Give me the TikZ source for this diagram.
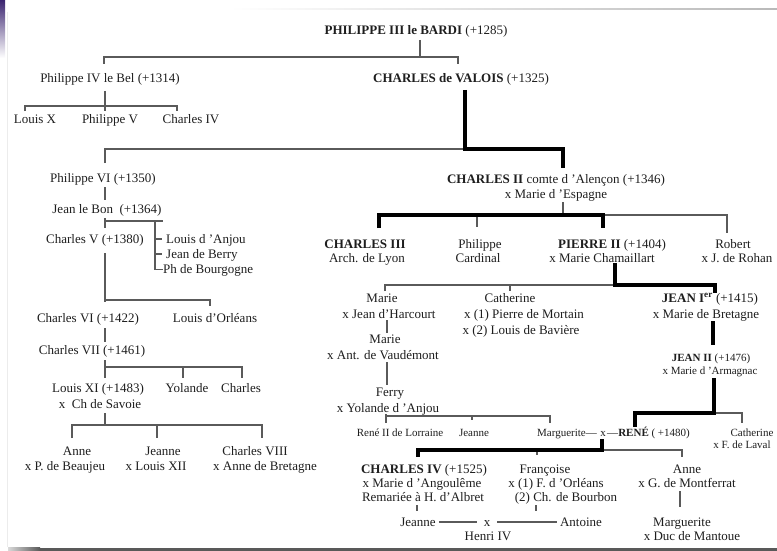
\documentclass[tikz,border=0pt]{standalone}
\usepackage{fontspec}
\setmainfont{Liberation Serif}
\begin{document}
\begin{tikzpicture}[x=1pt,y=-1pt,
  t/.style={anchor=base,inner sep=0pt,text=txt,font=\fontsize{13}{14}\selectfont},
  ts/.style={t,font=\fontsize{11}{12}\selectfont},
  thinl/.style={draw=lngray,line width=1.5pt},
  thickl/.style={draw=black,line width=3.3pt,line join=miter}]
\definecolor{txt}{HTML}{1E1E1E}
\definecolor{lngray}{HTML}{5A5A5A}
\definecolor{strip}{HTML}{3B2470}
\useasboundingbox (0,0) rectangle (777,551);
\fill[white] (0,0) rectangle (777,551);
% card decorations
\shade[top color=strip,bottom color=white] (0,0) rectangle (5,58);
\shade[left color=white,right color=gray!55] (230,8.5) rectangle (777,10);
\draw[gray!15,line width=1pt] (7.5,12) -- (7.5,547);
\shade[left color=gray!30,right color=gray!70!black] (8,547.5) rectangle (40,551);
\fill[gray!70!black] (40,547.5) rectangle (777,551);

% ---------- left branch ----------
\node[t] (p3) at (416,35) {\textbf{PHILIPPE III le BARDI} (+1285)};
\node[t] (p4) at (110,82) {Philippe IV le Bel (+1314)};
\node[t] (cv) at (461,82) {\textbf{CHARLES de VALOIS} (+1325)};
\node[t] (lx) at (35,124) {Louis X};
\node[t] (p5) at (110,124) {Philippe V};
\node[t] (c4) at (191,124) {Charles IV};
\node[t] (p6) at (103,182) {Philippe VI (+1350)};
\node[t] (jb) at (107,213) {Jean le Bon\ \ (+1364)};
\node[t] (cV) at (95,243) {Charles V (+1380)};
\node[t,anchor=base west] (la) at (166,243) {Louis d 'Anjou};
\node[t,anchor=base west] (jbe) at (166,258) {Jean de Berry};
\node[t,anchor=base west] (pb) at (163,273) {Ph de Bourgogne};
\node[t] (c6) at (88,322) {Charles VI (+1422)};
\node[t] (lo) at (215,322) {Louis d'Orléans};
\node[t] (c7) at (92,354) {Charles VII (+1461)};
\node[t] (l11) at (98,392) {Louis XI (+1483)};
\node[t] (l11b) at (100,408) {x\ \ Ch de Savoie};
\node[t] (yo) at (187,392) {Yolande};
\node[t] (ch) at (241,392) {Charles};
\node[t] (an1) at (77,455) {Anne};
\node[t] (an1b) at (65,470) {x P. de Beaujeu};
\node[t] (je1) at (163,455) {Jeanne};
\node[t] (je1b) at (156,470) {x Louis XII};
\node[t] (c8) at (255,455) {Charles VIII};
\node[t] (c8b) at (265,470) {x Anne de Bretagne};

% ---------- right branch ----------
\node[t] (c2) at (556,183) {\textbf{CHARLES II} comte d 'Alençon (+1346)};
\node[t] (c2b) at (556,198) {x Marie d 'Espagne};
\node[t] (c3) at (365,248) {\textbf{CHARLES III}};
\node[t] (c3b) at (367,262) {Arch. de Lyon};
\node[t] (ph) at (480,248) {Philippe};
\node[t] (phb) at (478,262) {Cardinal};
\node[t] (p2) at (612,248) {\textbf{PIERRE II} (+1404)};
\node[t] (p2b) at (602,262) {x Marie Chamaillart};
\node[t] (ro) at (733,248) {Robert};
\node[t] (rob) at (737,262) {x J. de Rohan};
\node[t] (ma) at (382,302) {Marie};
\node[t] (mab) at (389,318) {x Jean d'Harcourt};
\node[t] (ca) at (510,302) {Catherine};
\node[t] (cab) at (524,318) {x (1) Pierre de Mortain};
\node[t] (cac) at (521,334) {x (2) Louis de Bavière};
\node[t] (j1) at (710,302) {\textbf{JEAN I\textsuperscript{er}} (+1415)};
\node[t] (j1b) at (706,318) {x Marie de Bretagne};
\node[t] (ma2) at (385,343) {Marie};
\node[t] (ma2b) at (383,359) {x Ant. de Vaudémont};
\node[ts] (j2) at (711,361) {\textbf{JEAN II} (+1476)};
\node[ts] (j2b) at (710,374) {x Marie d 'Armagnac};
\node[t] (fe) at (390,396) {Ferry};
\node[t] (feb) at (388,412) {x Yolande d 'Anjou};
\node[ts] (r2) at (400,436) {René II de Lorraine};
\node[ts] (jn) at (474,436) {Jeanne};
\node[ts,anchor=base east] (mg) at (597,436) {Marguerite—};
\node[ts] (mx) at (603,436) {x};
\node[ts,anchor=base west] (rn) at (607,436) {—\textbf{RENÉ} ( +1480)};
\node[ts] (cat2) at (752,436) {Catherine};
\node[ts] (cat2b) at (742,448) {x F. de Laval};
\node[t] (c4r) at (424,473) {\textbf{CHARLES IV} (+1525)};
\node[t] (c4rb) at (422,487) {x Marie d 'Angoulême};
\node[t] (c4rc) at (423,501) {Remariée à H. d'Albret};
\node[t] (fr) at (545,473) {Françoise};
\node[t] (frb) at (556,487) {x (1) F. d 'Orléans};
\node[t] (frc) at (566,501) {(2) Ch. de Bourbon};
\node[t] (an2) at (687,473) {Anne};
\node[t] (an2b) at (687,487) {x G. de Montferrat};
\node[t] (mg2) at (682,526) {Marguerite};
\node[t] (mg2b) at (692,540) {x Duc de Mantoue};
\node[t] (jn2) at (418,526) {Jeanne};
\node[t] (x2) at (487,526) {x};
\node[t] (at) at (581,526) {Antoine};
\node[t] (h4) at (488,540) {Henri IV};

% ---------- connectors: left ----------
\draw[thinl] (420,40) -- (420,57);
\draw[thinl] (104,64) -- (104,57) -- (458,57) -- (458,64);
\draw[thinl] (105,91) -- (105,111);
\draw[thinl] (25,111) -- (25,106) -- (177,106) -- (177,111);
\draw[thinl] (105,163) -- (105,149) -- (465,149);
\draw[thinl] (105,187) -- (105,200);
\draw[thinl] (105,218) -- (105,228);
\draw[thinl] (105,221) -- (163,221);
\draw[thinl] (155,221) -- (155,270);
\draw[thinl] (155,239) -- (162,239);
\draw[thinl] (155,254) -- (162,254);
\draw[thinl] (155,269.5) -- (163,269.5);
\draw[thinl] (105,253) -- (105,302);
\draw[thinl] (105,300) -- (210,300) -- (210,306);
\draw[thinl] (105,328) -- (105,342);
\draw[thinl] (105,360) -- (105,378);
\draw[thinl] (105,367) -- (242,367) -- (242,378);
\draw[thinl] (183,367) -- (183,378);
\draw[thinl] (105,413) -- (105,425);
\draw[thinl] (72,438) -- (72,425) -- (262,425) -- (262,438);
\draw[thinl] (157,425) -- (157,438);

% ---------- connectors: right ----------
\draw[thickl] (465,90) -- (465,149) -- (563,149) -- (563,168);
\draw[thinl] (563,202) -- (563,215);
\draw[thinl] (603,215) -- (727,215) -- (727,233);
\draw[thinl] (477,215) -- (477,227);
\draw[thickl] (379,228) -- (379,215) -- (603,215) -- (603,228);
\draw[thinl] (385,291) -- (385,285) -- (615,285);
\draw[thinl] (510,285) -- (510,291);
\draw[thickl] (615,263) -- (615,285) -- (715,285) -- (715,293);
\draw[thickl] (713,321) -- (713,345);
\draw[thinl] (387,320) -- (387,333);
\draw[thinl] (387,362) -- (387,385);
\draw[thinl] (714,413) -- (742,413) -- (742,423);
\draw[thickl] (714,378) -- (714,413) -- (635,413) -- (635,427);
\draw[thinl] (386,414) -- (386,423);
\draw[thinl] (386,416) -- (550,416) -- (550,423);
\draw[thinl] (472,416) -- (472,420);
\draw[thinl] (603,450) -- (682,450) -- (682,457);
\draw[thinl] (537,450) -- (537,455);
\draw[thickl] (602,439) -- (602,450) -- (418,450) -- (418,457);
\draw[thinl] (680,491) -- (680,507);
\draw[thinl] (417,505) -- (417,511);
\draw[thinl] (536,505) -- (536,511);
\draw[thinl] ([xshift=3pt]jn2.east |- 0,522) -- (477,522);
\draw[thinl] (497,522) -- ([xshift=-3pt]at.west |- 0,522);
\end{tikzpicture}
\end{document}
